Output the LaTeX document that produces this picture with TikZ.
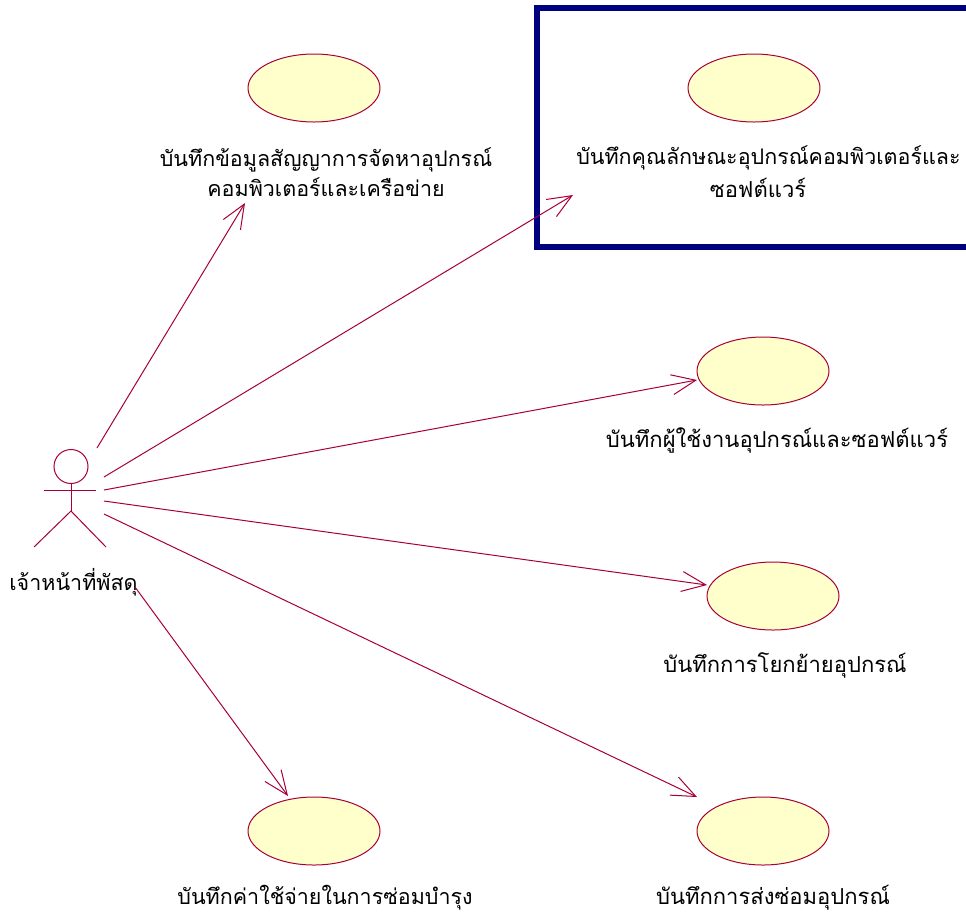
\documentclass[tikz,border=0pt]{standalone}
\usepackage{fontspec}
\usetikzlibrary{arrows.meta,shapes.geometric}
\newfontfamily\thaifont[Script=Thai]{Loma}
\definecolor{umlline}{HTML}{A80036}
\definecolor{umlfill}{HTML}{FFFFCC}
\definecolor{boxblue}{HTML}{000080}
\tikzset{
  usecase/.style={ellipse,draw=umlline,fill=umlfill,line width=0.75pt,minimum width=99pt,minimum height=51pt,inner sep=0pt},
  lbl/.style={font=\thaifont\fontsize{16.5pt}{23pt}\selectfont,text=black,inner sep=0pt,align=center},
  lblsmall/.style={lbl,font=\thaifont\fontsize{16.1pt}{23pt}\selectfont},
  assoc/.style={draw=umlline,line width=0.75pt,-{Straight Barb[length=18pt,width=15pt,line width=0.75pt]}},
  actorline/.style={draw=umlline,line width=0.75pt},
  selectbox/.style={draw=boxblue,line width=4.5pt}
}
\begin{document}
\begin{tikzpicture}[x=0.75pt,y=-0.75pt]
\useasboundingbox (0,0) rectangle (966,915);
\fill[white] (0,0) rectangle (966,915);
% selection box (runs past the right edge of the picture)
\draw[selectbox] (537,8) rectangle (985,247);
% use cases
\node[usecase] (uc1) at (314,88) {};
\node[usecase] (uc2) at (754,88) {};
\node[usecase] (uc3) at (763,371) {};
\node[usecase] (uc4) at (773,596) {};
\node[usecase] (uc5) at (314,831) {};
\node[usecase] (uc6) at (763,831) {};
% labels
\node[lblsmall] (l1) at (326,172) {บันทึกข้อมูลสัญญาการจัดหาอุปกรณ์\\คอมพิวเตอร์และเครือข่าย};
\node[lblsmall,anchor=west] (l2a) at (576,157.5) {บันทึกคุณลักษณะอุปกรณ์คอมพิวเตอร์และ};
\node[lbl] (l2b) at (758,187.5) {ซอฟต์แวร์};
\node[lbl] (l3) at (777,440.5) {บันทึกผู้ใช้งานอุปกรณ์และซอฟต์แวร์};
\node[lbl] (l4) at (785,665) {บันทึกการโยกย้ายอุปกรณ์};
\node[lblsmall] (l5) at (325,898) {บันทึกค่าใช้จ่ายในการซ่อมบำรุง};
\node[lbl] (l6) at (773,898) {บันทึกการส่งซ่อมอุปกรณ์};
% actor
\node[circle,actorline,minimum size=25.5pt,inner sep=0pt] (head) at (71,466.5) {};
\coordinate (hip) at (71,511);
\coordinate (armL) at (44,490.5);
\coordinate (armR) at (96,490.5);
\coordinate (footL) at (34,547);
\coordinate (footR) at (106,547);
\draw[actorline] (head.south) -- (hip);
\draw[actorline] (armL) -- (armR);
\draw[actorline] (footL) -- (hip) -- (footR);
\node[lblsmall] (actor) at (73.5,582) {เจ้าหน้าที่พัสดุ};
% connector ends
\coordinate (s1) at (97,448);  \coordinate (t1) at (245,203);
\coordinate (s2) at (104,477); \coordinate (t2) at (573,195);
\coordinate (s3) at (104,490); \coordinate (t3) at (697,380);
\coordinate (s4) at (104,501); \coordinate (t4) at (707,585);
\coordinate (s5) at (104,514); \coordinate (t5) at (697,797);
\coordinate (s6) at (135,587); \coordinate (t6) at (288,796);
\draw[assoc] (s1) -- (t1);
\draw[assoc] (s2) -- (t2);
\draw[assoc] (s3) -- (t3);
\draw[assoc] (s4) -- (t4);
\draw[assoc] (s5) -- (t5);
\draw[assoc] (s6) -- (t6);
\end{tikzpicture}
\end{document}
